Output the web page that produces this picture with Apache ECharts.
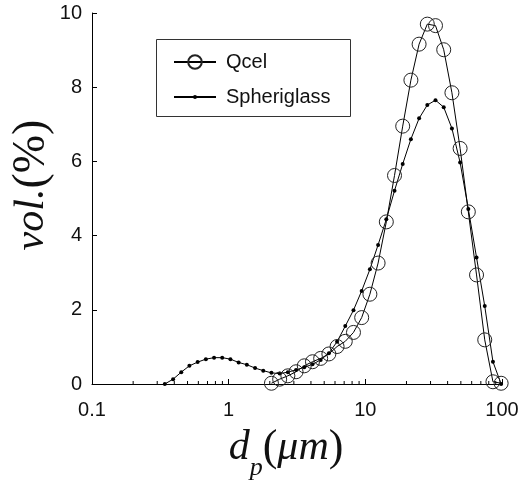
<!DOCTYPE html>
<html>
<head>
<meta charset="utf-8">
<script src="https://cdn.jsdelivr.net/npm/echarts@6/dist/echarts.min.js"></script>
<style>html,body{margin:0;padding:0;background:#fff;}#c{width:525px;height:485px;}</style>
</head>
<body>
<div id="c"></div>
<script>
// particle diameters (um) of the size classes
const sizes = [0.341, 0.392, 0.450, 0.516, 0.593, 0.681, 0.782, 0.897, 1.030, 1.183,
  1.358, 1.560, 1.791, 2.056, 2.361, 2.711, 3.113, 3.574, 4.104, 4.712,
  5.410, 6.212, 7.133, 8.190, 9.404, 10.80, 12.40, 14.24, 16.35, 18.77,
  21.55, 24.74, 28.41, 32.62, 37.46, 43.01, 49.38, 56.70, 65.11, 74.76,
  85.84, 98.56];
const spheriglassVol = [0, 0.13, 0.32, 0.49, 0.59, 0.67, 0.71, 0.71, 0.67, 0.58,
  0.52, 0.43, 0.36, 0.30, 0.28, 0.32, 0.38, 0.45, 0.53, 0.65,
  0.83, 1.14, 1.56, 1.99, 2.51, 3.09, 3.75, 4.44, 5.21, 5.93,
  6.60, 7.16, 7.52, 7.65, 7.46, 6.89, 5.97, 4.72, 3.41, 2.10,
  0.60, 0];
const qcelSizes = sizes.slice(13);
const qcelVol = [0.02, 0.13, 0.22, 0.33, 0.49, 0.60, 0.69, 0.81, 1.01, 1.15,
  1.39, 1.79, 2.42, 3.26, 4.37, 5.62, 6.95, 8.19, 9.16, 9.70,
  9.66, 9.01, 7.85, 6.35, 4.64, 2.94, 1.19, 0.06, 0.02];
const xTicks = [0.1, 1, 10, 100];
const yTicks = [0, 2, 4, 6, 8, 10];
const minorTicks = [0.2,0.3,0.4,0.5,0.6,0.7,0.8,0.9, 2,3,4,5,6,7,8,9, 20,30,40,50,60,70,80,90];

const chart = echarts.init(document.getElementById('c'), null, {renderer: 'canvas'});
const tickFont = {fontFamily: 'Liberation Sans, Arial, sans-serif', fontSize: 20, color: '#111'};
const legendText = {fontFamily: 'Liberation Sans, Arial, sans-serif', fontSize: 20, color: '#111', padding: [0, 0, 0, 5]};

chart.setOption({
  animation: false,
  backgroundColor: '#fff',
  grid: {left: 92, right: 23, top: 13, bottom: 101, containLabel: false},
  xAxis: {
    type: 'log', logBase: 10, min: xTicks[0], max: xTicks[xTicks.length - 1],
    axisLine: {show: true, lineStyle: {color: '#000', width: 1}},
    axisTick: {show: true, inside: true, length: 5, lineStyle: {color: '#000'}},
    minorTick: {show: false},
    splitLine: {show: false},
    axisLabel: Object.assign({margin: 16, formatter: v => String(v)}, tickFont)
  },
  yAxis: {
    type: 'value', min: yTicks[0], max: yTicks[yTicks.length - 1], interval: 2,
    axisLine: {show: true, lineStyle: {color: '#000', width: 1}},
    axisTick: {show: true, inside: true, length: 5, lineStyle: {color: '#000'}},
    splitLine: {show: false},
    axisLabel: Object.assign({margin: 10}, tickFont)
  },
  legend: [
    {
      left: 173, top: 52, orient: 'vertical', padding: 0,
      itemWidth: 42, itemHeight: 17,
      textStyle: legendText,
      data: ['Qcel']
    },
    {
      left: 173, top: 87, orient: 'vertical', padding: 0,
      itemWidth: 42, itemHeight: 5,
      textStyle: legendText,
      data: ['Spheriglass']
    }
  ],
  graphic: [
    {
      type: 'rect', silent: true,
      shape: {x: 156.5, y: 39.5, width: 194, height: 77},
      style: {fill: 'none', stroke: '#333', lineWidth: 1}
    },
    {
      type: 'text', x: 32, y: 185, rotation: Math.PI / 2,
      style: {
        text: '{it|vol.}{n|(%)}',
        align: 'center', verticalAlign: 'middle',
        rich: {
          it: {fontFamily: 'Liberation Serif, Times New Roman, serif', fontStyle: 'italic', fontSize: 42, fill: '#111'},
          n: {fontFamily: 'Liberation Serif, Times New Roman, serif', fontSize: 46, fill: '#111'}
        }
      }
    },
    {
      type: 'text', x: 286, y: 448,
      style: {
        text: '{it|d}{sub|p}{n|(}{it|μm}{n|)}',
        align: 'center', verticalAlign: 'middle',
        rich: {
          it: {fontFamily: 'Liberation Serif, Times New Roman, serif', fontStyle: 'italic', fontSize: 42, fill: '#111', verticalAlign: 'middle'},
          n: {fontFamily: 'Liberation Serif, Times New Roman, serif', fontSize: 44, fill: '#111', verticalAlign: 'middle'},
          sub: {fontFamily: 'Liberation Serif, Times New Roman, serif', fontStyle: 'italic', fontSize: 26, fill: '#111', verticalAlign: 'bottom', lineHeight: 66}
        }
      }
    }
  ],
  series: [
    {
      name: 'Qcel', type: 'line',
      data: qcelSizes.map((x, i) => [x, qcelVol[i]]),
      symbol: 'circle', symbolSize: 14, showAllSymbol: true,
      lineStyle: {color: '#000', width: 1},
      itemStyle: {color: 'rgba(0,0,0,0)', borderColor: '#222', borderWidth: 1},
      z: 3
    },
    {
      name: 'Spheriglass', type: 'line',
      data: sizes.map((x, i) => [x, spheriglassVol[i]]),
      symbol: 'circle', symbolSize: 4, showAllSymbol: true,
      lineStyle: {color: '#000', width: 1},
      itemStyle: {color: '#000', borderWidth: 0},
      z: 2
    },
    {
      name: 'minor', type: 'custom', silent: true,
      data: minorTicks.map(v => [v, 0]),
      renderItem: function (params, api) {
        const p = api.coord([api.value(0), 0]);
        return {type: 'line', shape: {x1: p[0], y1: p[1], x2: p[0], y2: p[1] - 3},
          style: {stroke: '#000', lineWidth: 1}};
      },
      z: 1
    }
  ]
});
</script>
</body>
</html>
